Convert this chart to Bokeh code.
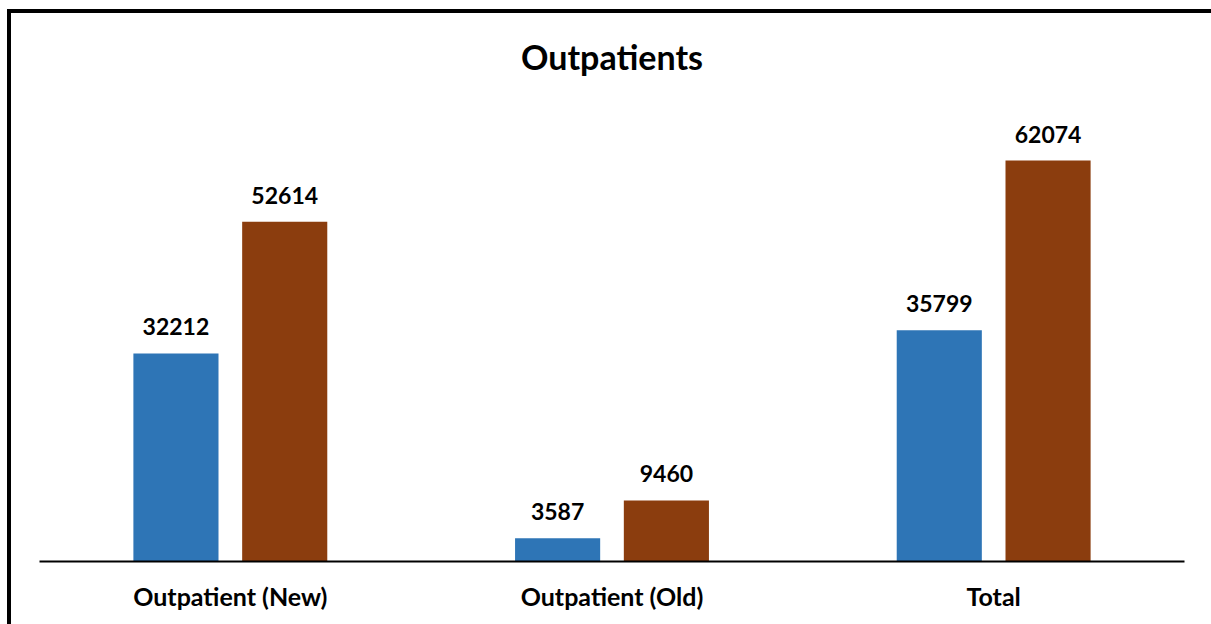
from bokeh.plotting import figure
from bokeh.models import FactorRange, ColumnDataSource, LabelSet
from bokeh.transform import dodge
from bokeh.core.properties import value
from bokeh.embed import file_html
from bokeh.resources import INLINE

categories = ["Outpatient (New)", "Outpatient (Old)", "Total"]
series_a = [32212, 3587, 35799]
series_b = [52614, 9460, 62074]

color_a = "#2E75B6"
color_b = "#8B3D0E"
FONT = "Lato"

src = ColumnDataSource(dict(
    cat=categories,
    a=series_a,
    b=series_b,
    a_txt=[str(v) for v in series_a],
    b_txt=[str(v) for v in series_b],
))

p = figure(
    x_range=FactorRange(*categories, range_padding=0),
    y_range=(0, 72000),
    frame_width=1145, frame_height=465,
    output_backend="svg", toolbar_location=None,
    title="Outpatients",
    min_border_left=28, min_border_right=40,
    min_border_top=83, min_border_bottom=72,
)
p.styles = {"border-top": "4px solid black", "border-left": "4px solid black",
            "margin-left": "7px", "margin-top": "9px"}

p.vbar(x=dodge("cat", -0.1425, range=p.x_range), top="a", width=0.223,
       source=src, color=color_a, line_color=None)
p.vbar(x=dodge("cat", 0.1425, range=p.x_range), top="b", width=0.223,
       source=src, color=color_b, line_color=None)

for col, off in (("a", -0.1425), ("b", 0.1425)):
    lbl = LabelSet(x=dodge("cat", off, range=p.x_range), y=col, text=col + "_txt",
                   source=src, text_align="center", text_baseline="alphabetic",
                   y_offset=18, text_font=value(FONT), text_font_style="bold",
                   text_font_size="23px", text_color="black")
    p.add_layout(lbl)

p.title.align = "center"
p.title.text_font = FONT
p.title.text_font_size = "34px"
p.title.text_font_style = "bold"
p.title.text_color = "black"
p.title.standoff = 40

p.yaxis.visible = False
p.xgrid.visible = False
p.ygrid.visible = False
p.outline_line_color = None
p.xaxis.axis_line_color = "black"
p.xaxis.axis_line_width = 2
p.xaxis.major_tick_line_color = None
p.xaxis.minor_tick_line_color = None
p.xaxis.major_label_text_font = FONT
p.xaxis.major_label_text_font_style = "bold"
p.xaxis.major_label_text_font_size = "25px"
p.xaxis.major_label_text_color = "black"
p.xaxis.major_label_standoff = 13
p.xaxis.group_text_font_size = "0px"

open("out.html", "w").write(file_html(p, INLINE))
